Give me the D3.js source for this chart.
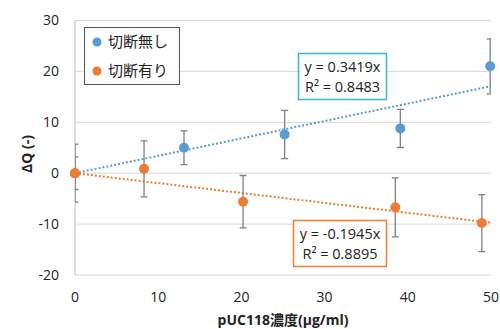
<!DOCTYPE html>
<html><head><meta charset="utf-8">
<script src="https://cdn.jsdelivr.net/npm/d3@7"></script>
<style>body{margin:0;background:#fff;}svg{display:block;font-family:"Open Sans","Noto Sans CJK JP",sans-serif;}</style>
</head><body><svg id="c" width="500" height="329"></svg>
<script>
const seriesNames = ["切断無し", "切断有り"];
const colors = ["#5b9bd5", "#ed7d31"];
const blueX = [0, 13.1, 25.2, 39.1, 49.9];
const blueY = [0, 5.0, 7.6, 8.8, 21.0];
const blueErr = [3.2, 3.3, 4.75, 3.75, 5.4];
const orangeX = [0, 8.3, 20.2, 38.5, 48.9];
const orangeY = [0, 0.85, -5.6, -6.7, -9.8];
const orangeErr = [5.7, 5.5, 5.15, 5.8, 5.6];
const slopes = [0.3419, -0.1945];
const eqLines = [["y = 0.3419x", "R² = 0.8483"], ["y = -0.1945x", "R² = 0.8895"]];
const xTicks = [0, 10, 20, 30, 40, 50];
const yTicks = [-20, -10, 0, 10, 20, 30];

const svg = d3.select("#c");
const x = d3.scaleLinear().domain([0, 50]).range([75, 491]);
const y = d3.scaleLinear().domain([-20, 30]).range([275, 20.5]);

svg.append("defs").append("clipPath").attr("id", "pc")
  .append("rect").attr("x", x(0)).attr("y", y(30)).attr("width", x(50) - x(0)).attr("height", y(-20) - y(30));

// grid
svg.append("g").selectAll("line").data(yTicks).join("line")
  .attr("x1", x(0)).attr("x2", x(50)).attr("y1", d => y(d)).attr("y2", d => y(d))
  .attr("stroke", "#d9d9d9").attr("stroke-width", 1);
svg.append("line").attr("x1", x(0)).attr("x2", x(0)).attr("y1", y(30)).attr("y2", y(-20))
  .attr("stroke", "#bfbfbf").attr("stroke-width", 1);

// tick labels
svg.append("g").selectAll("text").data(yTicks).join("text")
  .attr("x", 59).attr("y", d => y(d)).attr("dy", "0.35em").attr("text-anchor", "end")
  .attr("font-size", 14).attr("fill", "#222").text(d => d);
svg.append("g").selectAll("text").data(xTicks).join("text")
  .attr("x", d => x(d)).attr("y", 297).attr("dy", "0.35em").attr("text-anchor", "middle")
  .attr("font-size", 14).attr("fill", "#222").text(d => d);

// axis titles
svg.append("text").attr("transform", "translate(27,154) rotate(-90)").attr("text-anchor", "middle")
  .attr("dy", "0.35em").attr("font-size", 14).attr("font-weight", "bold").attr("fill", "#222").text("ΔQ (-)");
svg.append("text").attr("x", 283).attr("y", 320).attr("dy", "0.35em").attr("text-anchor", "middle")
  .attr("font-size", 14).attr("font-weight", "bold").attr("fill", "#222").text("pUC118濃度(μg/ml)");

// trendlines
slopes.forEach((s, i) => {
  svg.append("line").attr("x1", x(0)).attr("y1", y(0)).attr("x2", x(50)).attr("y2", y(50 * s))
    .attr("stroke", colors[i]).attr("stroke-width", 2).attr("stroke-dasharray", "2,2");
});

const series = [
  {xs: blueX, ys: blueY, es: blueErr},
  {xs: orangeX, ys: orangeY, es: orangeErr}
];
const eg = svg.append("g").attr("clip-path", "url(#pc)");
series.forEach((s, i) => {
  const data = s.xs.map((v, j) => ({x: v, y: s.ys[j], e: s.es[j]}));
  const g = eg.append("g").attr("stroke", "#7f7f7f").attr("stroke-width", 1.3);
  data.forEach(d => {
    g.append("line").attr("x1", x(d.x)).attr("x2", x(d.x)).attr("y1", y(d.y + d.e)).attr("y2", y(d.y - d.e));
    [d.y + d.e, d.y - d.e].forEach(v => g.append("line").attr("x1", x(d.x) - 3.5).attr("x2", x(d.x) + 3.5).attr("y1", y(v)).attr("y2", y(v)));
  });
});
series.slice().reverse().forEach((s, ri) => {
  const i = 1 - ri;
  svg.append("g").selectAll("circle").data(s.xs.map((v, j) => [v, s.ys[j]])).join("circle")
    .attr("cx", d => x(d[0])).attr("cy", d => y(d[1])).attr("r", 5).attr("fill", colors[i]);
});
// draw orange zero point on top
svg.append("circle").attr("cx", x(orangeX[0])).attr("cy", y(orangeY[0])).attr("r", 5).attr("fill", colors[1]);

// legend
const lg = svg.append("g");
lg.append("rect").attr("x", 84.5).attr("y", 27.5).attr("width", 95).attr("height", 57)
  .attr("fill", "#fff").attr("stroke", "#555").attr("stroke-width", 1);
seriesNames.forEach((n, i) => {
  lg.append("circle").attr("cx", 97).attr("cy", 42 + i * 29).attr("r", 4.5).attr("fill", colors[i]);
  lg.append("text").attr("x", 108).attr("y", 42 + i * 29).attr("dy", "0.35em").attr("font-size", 15)
    .attr("fill", "#222").text(n);
});

// equation boxes
const boxes = [{x: 298, y: 53, w: 88, h: 46}, {x: 293, y: 220, w: 93, h: 46}];
boxes.forEach((b, i) => {
  svg.append("rect").attr("x", b.x + 0.5).attr("y", b.y + 0.5).attr("width", b.w).attr("height", b.h)
    .attr("fill", "#fff").attr("stroke", i === 0 ? "#3cb4dc" : "#ed7d31").attr("stroke-width", 1.5);
  eqLines[i].forEach((t, k) => {
    svg.append("text").attr("x", b.x + b.w / 2 + 0.5).attr("y", b.y + 14 + k * 20).attr("dy", "0.35em")
      .attr("text-anchor", "middle").attr("font-size", 14.5).attr("fill", "#222").text(t);
  });
});
</script></body></html>
